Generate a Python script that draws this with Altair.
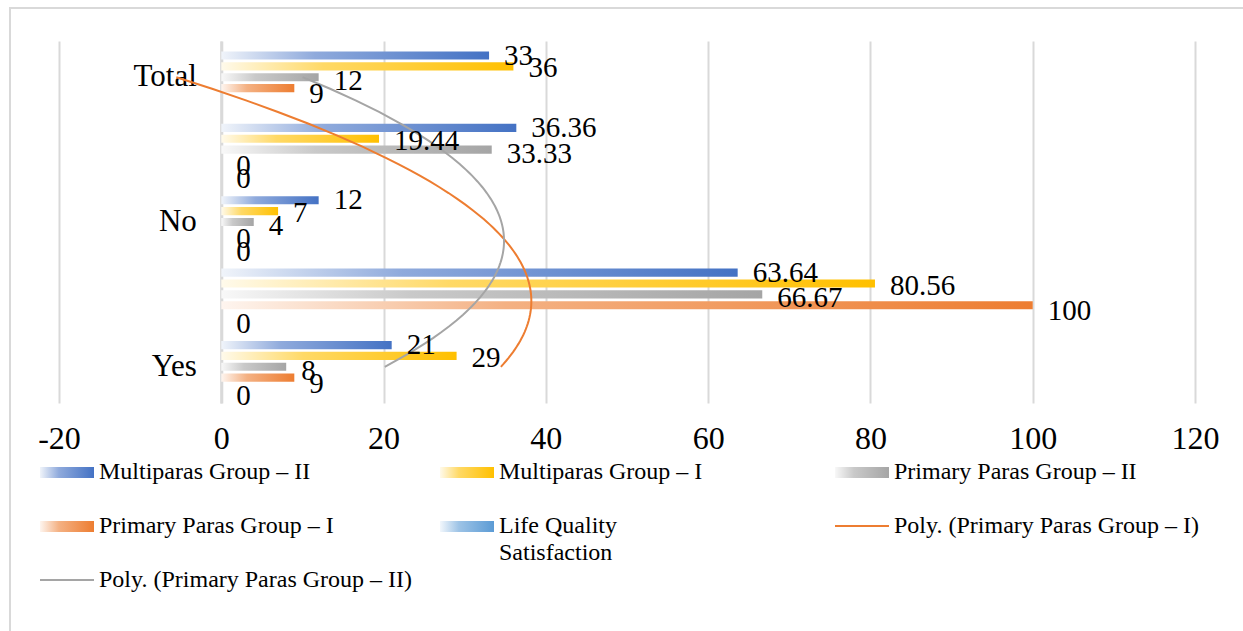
import altair as alt
import pandas as pd

# Categories in worksheet order (bottom to top on the chart)
categories = ["Yes", "Yes %", "No", "No %", "Total"]
shown_categories = ["Yes", "No", "Total"]

# Bar series in worksheet order (drawn bottom to top inside each category)
series_names = [
    "Life Quality Satisfaction",
    "Primary Paras Group – I",
    "Primary Paras Group – II",
    "Multiparas Group – I",
    "Multiparas Group – II",
]
series_colors = ["#5B9BD5", "#ED7D31", "#A5A5A5", "#FFC000", "#4472C4"]

life_quality = [0, 0, 0, 0, None]
primary_1 = [9, 100, 0, 0, 9]
primary_2 = [8, 66.67, 4, 33.33, 12]
multi_1 = [29, 80.56, 7, 19.44, 36]
multi_2 = [21, 63.64, 12, 36.36, 33]

x_ticks = [-20, 0, 20, 40, 60, 80, 100, 120]

FONT = "Liberation Serif"
GRID = "#D9D9D9"

series_values = [life_quality, primary_1, primary_2, multi_1, multi_2]
rows = []
for name, values in zip(series_names, series_values):
    for i, (cat, v) in enumerate(zip(categories, values)):
        rows.append({"category": cat, "idx": i + 1, "series": name, "value": v})
df = pd.DataFrame(rows)


def tint(hex_color, amount):
    """Mix a colour with white; amount=1 gives white."""
    h = hex_color.lstrip("#")
    r, g, b = (int(h[k:k + 2], 16) for k in (0, 2, 4))
    mix = lambda c: round(c + (255 - c) * amount)
    return "#{:02X}{:02X}{:02X}".format(mix(r), mix(g), mix(b))


def gradient(hex_color):
    return {
        "gradient": "linear",
        "x1": 0, "x2": 1, "y1": 0, "y2": 0,
        "stops": [
            {"offset": 0, "color": tint(hex_color, 0.92)},
            {"offset": 0.35, "color": tint(hex_color, 0.4)},
            {"offset": 1, "color": hex_color},
        ],
    }


x_scale = alt.Scale(domain=[-20, 120], nice=False, zero=False)
x_axis = alt.Axis(
    values=x_ticks, grid=True, gridColor=GRID, gridWidth=2, domain=False,
    ticks=False, labelFont=FONT, labelFontSize=32, labelColor="#000000",
    labelPadding=20, labelFlush=False, labelExpr="'' + datum.value", title=None,
)
y_band = alt.Scale(domain=categories[::-1], paddingInner=0.25, paddingOuter=0.125)
y_off = alt.Scale(domain=series_names[::-1], paddingInner=0.25, paddingOuter=0.125)
y_axis = alt.Axis(
    offset=-1136 * 20 / 140, domain=True, domainColor=GRID, domainWidth=3,
    ticks=False, grid=False, labelFont=FONT, labelFontSize=31,
    labelColor="#000000", labelPadding=25, title=None,
    labelExpr="indexof(" + str(shown_categories) + ", datum.value) >= 0 ? datum.value : ''",
)

base = alt.Chart(df)

# Gradient bars, one layer per series
bar_layers = []
for name, color in zip(series_names, series_colors):
    bar_layers.append(
        base.transform_filter(alt.datum.series == name)
        .transform_filter("isValid(datum.value)")
        .mark_bar(color=gradient(color))
        .encode(
            x=alt.X("value:Q", scale=x_scale, axis=x_axis),
            x2=alt.datum(0),
            y=alt.Y("category:N", scale=y_band, axis=y_axis),
            yOffset=alt.YOffset("series:N", scale=y_off),
        )
    )
bars = alt.layer(*bar_layers)

# Second-order polynomial trendlines over the category positions
trend_layers = []
for name, color in [("Primary Paras Group – I", "#ED7D31"), ("Primary Paras Group – II", "#A5A5A5")]:
    trend_layers.append(
        base.transform_filter(alt.datum.series == name)
        .transform_regression("idx", "value", method="poly", order=2)
        .mark_line(color=color, strokeWidth=2)
        .encode(
            x=alt.X("value:Q", scale=x_scale, axis=x_axis),
            y=alt.Y("idx:Q", scale=alt.Scale(domain=[0.5, 5.5], nice=False, zero=False), axis=None),
            order="idx:Q",
        )
    )
trends = alt.layer(*trend_layers)

# Data labels at the outside end of every bar
labels = (
    base.transform_filter("isValid(datum.value)")
    .mark_text(align="left", baseline="middle", dx=15, dy=4, font=FONT, fontSize=29, color="#000000")
    .encode(
        x=alt.X("value:Q", scale=x_scale, axis=x_axis),
        y=alt.Y("category:N", scale=y_band, axis=None),
        yOffset=alt.YOffset("series:N", scale=y_off),
        text=alt.Text("value:Q", format="~g"),
    )
)

one = pd.DataFrame({"k": [0]})

# Legend laid out in three columns below the plot
legend_items = [
    ("Multiparas Group – II", "#4472C4", "bar", 0, 0),
    ("Multiparas Group – I", "#FFC000", "bar", 1, 0),
    ("Primary Paras Group – II", "#A5A5A5", "bar", 2, 0),
    ("Primary Paras Group – I", "#ED7D31", "bar", 0, 1),
    ("Life Quality Satisfaction", "#5B9BD5", "bar", 1, 1),
    ("Poly. (Primary Paras Group – I)", "#ED7D31", "line", 2, 1),
    ("Poly. (Primary Paras Group – II)", "#A5A5A5", "line", 0, 2),
]
col_x = [-19, 381, 776]
row_y = [431, 485, 539]
swatch_w = 54
legend_layers = []
for text, color, kind, col, row in legend_items:
    x0, yc = col_x[col], row_y[row]
    if kind == "bar":
        legend_layers.append(
            alt.Chart(one).mark_rect(color=gradient(color)).encode(
                x=alt.value(x0), x2=alt.value(x0 + swatch_w),
                y=alt.value(yc - 5), y2=alt.value(yc + 6),
            )
        )
    else:
        legend_layers.append(
            alt.Chart(one).mark_rule(color=color, strokeWidth=2).encode(
                x=alt.value(x0), x2=alt.value(x0 + swatch_w), y=alt.value(yc),
            )
        )
    lines = ["Life Quality", "Satisfaction"] if text == "Life Quality Satisfaction" else text
    legend_layers.append(
        alt.Chart(one).mark_text(
            align="left", baseline="middle", font=FONT, fontSize=24, color="#000000", lineHeight=27,
        ).encode(x=alt.value(x0 + swatch_w + 5), y=alt.value(yc), text=alt.value(lines))
    )

frame = alt.Chart(one).mark_rect(fillOpacity=0, stroke=GRID, strokeWidth=2).encode(
    x=alt.value(-49), x2=alt.value(1210), y=alt.value(-33), y2=alt.value(620)
)

chart = (
    alt.layer(frame, bars, trends, labels, *legend_layers)
    .resolve_scale(y="independent", yOffset="independent")
    .properties(
        width=1136, height=362, autosize="none",
        padding={"left": 59, "top": 41, "right": 48, "bottom": 228},
        background="#FFFFFF",
    )
    .configure_view(stroke=None)
)

chart.save("out.html", embed_options={"renderer": "svg", "actions": False})
